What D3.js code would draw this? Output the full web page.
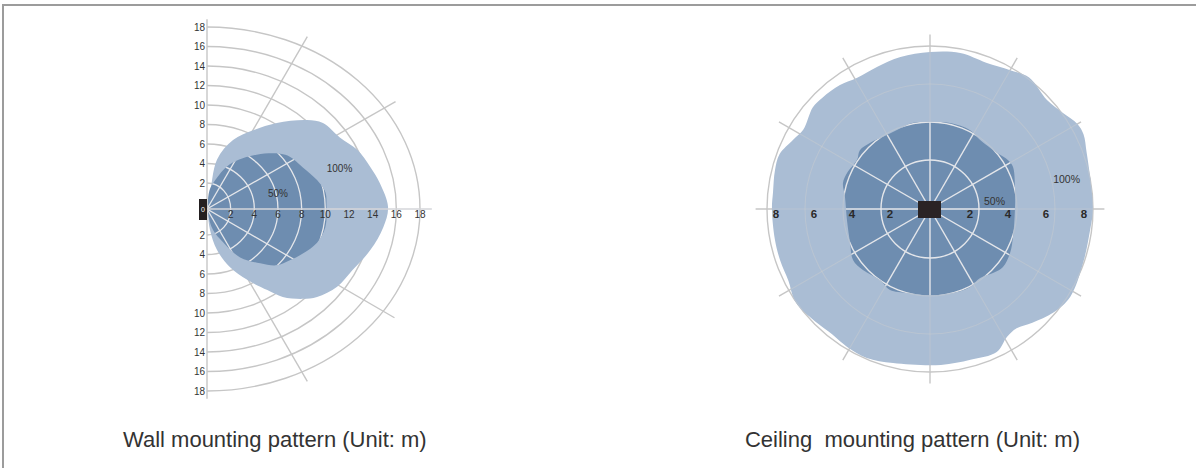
<!DOCTYPE html>
<html>
<head>
<meta charset="utf-8">
<script src="https://cdn.jsdelivr.net/npm/d3@7"></script>
<style>
  body { margin: 0; background: #fff; }
  svg { display: block; font-family: "Liberation Sans", Arial, sans-serif; }
</style>
</head>
<body>
<svg id="chart" width="1196" height="468"></svg>
<script>
// ---- wall mounting pattern, metres (x = out from wall, y = up/down)
const wallRings = [2, 4, 6, 8, 10, 12, 14, 16, 18];
const wallTicks = [2, 4, 6, 8, 10, 12, 14, 16, 18];
const wallSpokes = [63.5, 33, -33.5, -63.5];
const wallSpokeLen = 19;
const wallFull = [
  [0.1, -0.3], [0.25, 0.9], [0.85, 4.4], [2.2, 6.4], [3.9, 7.4], [5.9, 8.15],
  [8.45, 8.45], [9.8, 8.15], [11.2, 6.7], [12.7, 5.4], [13.8, 3.65], [14.6, 2.0],
  [15.3, 0.15], [14.9, -1.4], [13.8, -3.55], [12.3, -5.6], [11.0, -7.3], [9.3, -8.35],
  [8.1, -8.55], [6.4, -8.35], [5.1, -7.65], [3.4, -6.6], [1.95, -5.3], [0.85, -3.55],
  [0.25, -1.6]
];
const wallHalf = [
  [0.1, -0.3], [0.2, 1.4], [0.7, 2.3], [1.9, 3.9], [4.2, 4.9], [6.2, 5.0],
  [7.0, 4.7], [8.1, 3.6], [9.3, 2.3], [10.0, 1.3], [10.1, 0.2], [10.0, -1.4],
  [9.3, -2.8], [8.1, -3.9], [7.0, -4.6], [5.9, -5.1], [4.5, -4.9], [2.8, -4.3],
  [1.4, -2.8], [0.5, -1.6]
];
const wallLabels = [
  { text: "100%", x: 11.2, y: 3.1 },
  { text: "50%", x: 6.0, y: 0.9 }
];

// ---- ceiling mounting pattern, polar (angle deg, radius m)
const ceilRings = [2, 4, 6, 8];
const ceilTicks = [2, 4, 6, 8];
const ceilSpokes = [0, 30, 60, 90, 120, 150, 180, 210, 240, 270, 300, 330];
const ceilSpokeLen = 8.6;
const ceilFull = [
  [90, 7.68], [79, 7.78], [69, 7.67], [60, 7.86], [53, 8.09], [43, 7.84],
  [36, 8.05], [30, 8.38], [26, 8.41], [20, 8.19], [11, 8.01], [0, 8.0],
  [-7.5, 7.92], [-19, 7.96], [-32, 8.13], [-40, 7.9], [-48, 7.47], [-54, 7.18],
  [-59, 7.28], [-65, 7.73], [-75, 7.64], [-86, 7.65], [-103.5, 7.76], [-113, 7.94],
  [-121, 7.89], [-128, 7.79], [-135, 7.87], [-143, 8.02], [-147, 7.99], [-153, 7.78],
  [-161, 7.76], [-169, 7.74], [-180, 7.74], [174, 7.73], [166, 7.83], [160, 7.85],
  [153, 7.49], [148, 7.29], [139, 7.59], [134, 7.57], [126, 7.48], [119, 7.32],
  [110.5, 7.4], [101, 7.57]
];
const ceilHalf = [
  [90, 4.0], [77, 4.07], [63, 4.08], [54, 3.91], [40, 4.02], [32, 4.27],
  [27, 4.32], [14.5, 4.04], [-0.7, 3.89], [-18.6, 4.03], [-28.8, 4.23], [-38.5, 4.33],
  [-45.5, 4.15], [-54, 3.91], [-63, 4.04], [-72, 4.02], [-83.4, 3.98], [-94.7, 3.96],
  [-105.3, 4.0], [-116.3, 4.17], [-125.2, 3.99], [-137.7, 4.19], [-146.5, 4.28], [-157, 3.99],
  [-172.5, 3.83], [172, 3.94], [163.4, 4.2], [156.6, 4.18], [146, 4.05], [140, 4.24],
  [132, 4.12], [123, 3.95], [112.7, 3.93], [101, 4.04]
];
const ceilLabels = [
  { text: "100%", a: 12.4, r: 6.78 },
  { text: "50%", a: 7.1, r: 2.84 }
];

const lightFill = "#aabdd4";
const darkFill = "#6e8db0";
const gridGray = "#c6c6c6";
const rad = Math.PI / 180;

const svg = d3.select("#chart");

// frame
svg.append("path")
  .attr("d", "M3,468 V5 H1196")
  .attr("fill", "none")
  .attr("stroke", "#9c9c9c")
  .attr("stroke-width", 2);

// ================= wall chart =================
const x = d3.scaleLinear().domain([0, 18]).range([207, 420]);
const y = d3.scaleLinear().domain([-18, -2, 0, 2, 18]).range([391, 235, 209, 183, 27]);

const wall = svg.append("g");

function ringPath(r) {
  const rx = x(r) - x(0), ry = y(0) - y(r);
  return `M${x(0)},${y(r)} A${rx},${ry} 0 0 1 ${x(0)},${y(-r)}`;
}
function spokePath(a) {
  return `M${x(0)},${y(0)} L${x(wallSpokeLen * Math.cos(a * rad))},${y(wallSpokeLen * Math.sin(a * rad))}`;
}

function wallGrid(g, color, width) {
  g.selectAll(".ring").data(wallRings).enter().append("path")
    .attr("d", ringPath)
    .attr("fill", "none").attr("stroke", color).attr("stroke-width", width);
  g.selectAll(".spoke").data(wallSpokes).enter().append("path")
    .attr("d", spokePath)
    .attr("stroke", color).attr("stroke-width", width);
}

wallGrid(wall.append("g"), gridGray, 1.4);

wall.append("line")
  .attr("x1", x(0)).attr("x2", x(0))
  .attr("y1", y(18.8)).attr("y2", y(-18.8))
  .attr("stroke", gridGray).attr("stroke-width", 1.4);

const wallLine = d3.line()
  .x(d => x(d[0]))
  .y(d => y(d[1]))
  .curve(d3.curveCatmullRomClosed.alpha(0.5));

wall.append("path").attr("d", wallLine(wallFull)).attr("fill", lightFill);
wall.append("path").attr("d", wallLine(wallHalf)).attr("fill", darkFill);

svg.append("clipPath").attr("id", "wallClip")
  .append("path").attr("d", wallLine(wallHalf));
wallGrid(wall.append("g").attr("clip-path", "url(#wallClip)"), "#e4e6ea", 1.3);

wall.append("line")
  .attr("x1", x(0)).attr("x2", x(19))
  .attr("y1", y(0)).attr("y2", y(0))
  .attr("stroke", "#d4d6da").attr("stroke-width", 1.3);

// tick labels
wall.selectAll(".tx").data(wallTicks).enter().append("text")
  .attr("x", d => x(d)).attr("y", y(0) + 8.5)
  .attr("text-anchor", "middle")
  .style("font-size", "10px").attr("fill", "#333")
  .text(d => d);
wall.selectAll(".ty").data(wallTicks.flatMap(d => [d, -d])).enter().append("text")
  .attr("x", x(0) - 2).attr("y", d => y(d) + 3.5)
  .attr("text-anchor", "end")
  .style("font-size", "10px").attr("fill", "#333")
  .text(d => Math.abs(d));

wall.append("rect")
  .attr("x", x(0) - 8).attr("y", y(0) - 10)
  .attr("width", 8).attr("height", 21)
  .attr("fill", "#231f20");
wall.append("text")
  .attr("x", x(0) - 4).attr("y", y(0) + 3)
  .attr("text-anchor", "middle")
  .style("font-size", "7px").attr("fill", "#fff")
  .text("0");

wall.selectAll(".pct").data(wallLabels).enter().append("text")
  .attr("x", d => x(d.x)).attr("y", d => y(d.y))
  .attr("text-anchor", "middle")
  .style("font-size", "10px").attr("fill", "#333")
  .text(d => d.text);

// ================= ceiling chart =================
const r = d3.scaleLinear().domain([0, 2, 8]).range([0, 49, 163]);
const ceil = svg.append("g").attr("transform", "translate(930,209)");

const ceilLine = d3.lineRadial()
  .angle(d => (90 - d[0]) * rad)
  .radius(d => r(d[1]))
  .curve(d3.curveCatmullRomClosed.alpha(0.5));

function ceilGrid(g, color, width, opacity) {
  g.selectAll(".ring").data(ceilRings).enter().append("circle")
    .attr("r", d => r(d))
    .attr("fill", "none").attr("stroke", color)
    .attr("stroke-width", width).attr("stroke-opacity", opacity);
  g.selectAll(".spoke").data(ceilSpokes).enter().append("line")
    .attr("x2", d => r(ceilSpokeLen) * Math.cos(d * rad))
    .attr("y2", d => -r(ceilSpokeLen) * Math.sin(d * rad))
    .attr("stroke", color)
    .attr("stroke-width", width).attr("stroke-opacity", opacity);
}

ceilGrid(ceil.append("g"), gridGray, 1.4, 1);
ceil.append("path").attr("d", ceilLine(ceilFull)).attr("fill", lightFill);

// faint grid showing through the 100% zone
svg.append("clipPath").attr("id", "ceilFullClip")
  .append("path").attr("d", ceilLine(ceilFull));
ceilGrid(ceil.append("g").attr("clip-path", "url(#ceilFullClip)"), "#d9d3cc", 1.1, 0.3);

ceil.append("path").attr("d", ceilLine(ceilHalf)).attr("fill", darkFill);
svg.append("clipPath").attr("id", "ceilHalfClip")
  .append("path").attr("d", ceilLine(ceilHalf));
ceilGrid(ceil.append("g").attr("clip-path", "url(#ceilHalfClip)"), "#e4e6ea", 1.4, 1);

ceil.append("rect")
  .attr("x", -12).attr("y", -8)
  .attr("width", 23).attr("height", 17)
  .attr("fill", "#2a2324");

ceil.selectAll(".tk").data(ceilTicks.flatMap(d => [d, -d])).enter().append("text")
  .attr("x", d => Math.sign(d) * (r(Math.abs(d)) - 9))
  .attr("y", 9)
  .attr("text-anchor", "middle")
  .style("font-size", "11.5px").style("font-weight", "bold").attr("fill", "#2a2a2a")
  .text(d => Math.abs(d));

ceil.selectAll(".pct").data(ceilLabels).enter().append("text")
  .attr("x", d => r(d.r) * Math.cos(d.a * rad))
  .attr("y", d => -r(d.r) * Math.sin(d.a * rad) + 4)
  .attr("text-anchor", "middle")
  .style("font-size", "10.5px").attr("fill", "#333")
  .text(d => d.text);

// captions
svg.append("text")
  .attr("x", 123).attr("y", 447)
  .style("font-size", "22px").attr("fill", "#333")
  .text("Wall mounting pattern (Unit: m)");
svg.append("text")
  .attr("x", 1080).attr("y", 447)
  .attr("text-anchor", "end")
  .style("white-space", "pre")
  .style("font-size", "22px").attr("fill", "#333")
  .text("Ceiling  mounting pattern (Unit: m)");
</script>
</body>
</html>
